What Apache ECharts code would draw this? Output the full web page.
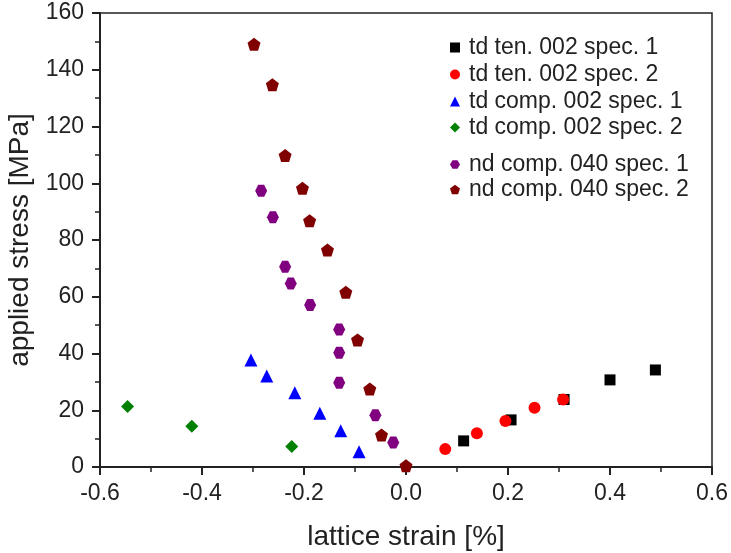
<!DOCTYPE html>
<html>
<head>
<meta charset="utf-8">
<script src="https://cdn.jsdelivr.net/npm/echarts@6/dist/echarts.min.js"></script>
<style>
  html, body { margin: 0; padding: 0; background: #fff; }
  #chart { width: 731px; height: 553px; }
</style>
</head>
<body>
<div id="chart"></div>
<script>
// series names
var names = [
  'td ten. 002 spec. 1',
  'td ten. 002 spec. 2',
  'td comp. 002 spec. 1',
  'td comp. 002 spec. 2',
  'nd comp. 040 spec. 1',
  'nd comp. 040 spec. 2'
]

// [lattice strain %, applied stress MPa]
var tdTen1 = [[0.113, 9.2], [0.206, 16.6], [0.310, 23.8], [0.400, 30.7], [0.489, 34.2]]
var tdTen2 = [[0.077, 6.3], [0.139, 11.9], [0.195, 16.2], [0.252, 20.9], [0.308, 23.8]]
var tdComp1 = [[-0.304, 37.7], [-0.273, 32.1], [-0.218, 26.2], [-0.169, 18.9], [-0.128, 12.8], [-0.092, 5.4]]
var tdComp2 = [[-0.546, 21.3], [-0.420, 14.4], [-0.224, 7.2]]
var ndComp1 = [[-0.284, 97.4], [-0.261, 88.0], [-0.237, 70.6], [-0.226, 64.7], [-0.188, 57.1],
  [-0.131, 48.5], [-0.131, 40.3], [-0.131, 29.7], [-0.060, 18.2], [-0.025, 8.6]]
var ndComp2 = [[-0.298, 149.0], [-0.262, 134.7], [-0.237, 109.8], [-0.203, 98.2], [-0.189, 86.8],
  [-0.154, 76.5], [-0.118, 61.6], [-0.095, 44.8], [-0.071, 27.5], [-0.048, 11.3], [0.0, 0.4]]

var pentagon = 'path://M0,-10L9.51,-3.09L5.88,8.09L-5.88,8.09L-9.51,-3.09Z'
var hexagon = 'path://M-5,-8.66L5,-8.66L10,0L5,8.66L-5,8.66L-10,0Z'

var font = 'Liberation Sans, Arial, sans-serif'

var chart = echarts.init(document.getElementById('chart'))

function legendStyle(top, gap, items) {
  return {
    data: items,
    orient: 'vertical',
    left: 445,
    top: top,
    itemGap: gap,
    itemWidth: 10,
    itemHeight: 10,
    textStyle: { fontFamily: font, fontSize: 23, lineHeight: 23, color: '#222', padding: [0, 0, 0, 4] }
  }
}

chart.setOption({
  animation: false,
  backgroundColor: '#fff',
  grid: {
    left: 100,
    right: 19,
    top: 13,
    bottom: 86,
    outerBoundsMode: 'none',
    show: true,
    borderColor: '#222',
    borderWidth: 1.5
  },
  legend: [
    legendStyle(31, 4, [names[0], names[1]]),
    legendStyle(85, 3, [names[2], names[3]]),
    legendStyle(148, 2, [names[4], names[5]])
  ],
  xAxis: {
    type: 'value',
    min: -0.6,
    max: 0.6,
    interval: 0.2,
    name: 'lattice strain [%]',
    nameLocation: 'middle',
    nameGap: 56,
    nameTextStyle: { fontFamily: font, fontSize: 28, color: '#222' },
    axisLine: { onZero: false, lineStyle: { color: '#222', width: 2 } },
    axisTick: { length: 8, lineStyle: { color: '#222', width: 2 } },
    minorTick: { show: true, splitNumber: 2, length: 5, lineStyle: { color: '#222', width: 1.5 } },
    splitLine: { show: false },
    axisLabel: {
      fontFamily: font,
      fontSize: 23,
      color: '#222',
      margin: 15,
      formatter: function (v) { return v.toFixed(1) }
    }
  },
  yAxis: {
    type: 'value',
    min: 0,
    max: 160,
    interval: 20,
    name: 'applied stress [MPa]',
    nameLocation: 'middle',
    nameGap: 64,
    nameTextStyle: { fontFamily: font, fontSize: 28, color: '#222' },
    axisLine: { show: true, onZero: false, lineStyle: { color: '#222', width: 2 } },
    axisTick: { show: true, length: 8, lineStyle: { color: '#222', width: 2 } },
    minorTick: { show: true, splitNumber: 2, length: 5, lineStyle: { color: '#222', width: 1.5 } },
    splitLine: { show: false },
    axisLabel: { fontFamily: font, fontSize: 23, color: '#222', margin: 16 }
  },
  series: [
    { name: names[0], type: 'scatter', data: tdTen1, symbol: 'rect', symbolSize: 11, itemStyle: { color: '#000000', opacity: 1 } },
    { name: names[1], type: 'scatter', data: tdTen2, symbol: 'circle', symbolSize: 12, itemStyle: { color: '#ff0000', opacity: 1 } },
    { name: names[2], type: 'scatter', data: tdComp1, symbol: 'triangle', symbolSize: 13, itemStyle: { color: '#0000ff', opacity: 1 } },
    { name: names[3], type: 'scatter', data: tdComp2, symbol: 'diamond', symbolSize: 13, itemStyle: { color: '#008000', opacity: 1 } },
    { name: names[4], type: 'scatter', data: ndComp1, symbol: hexagon, symbolSize: 12, itemStyle: { color: '#800080', opacity: 1 } },
    { name: names[5], type: 'scatter', data: ndComp2, symbol: pentagon, symbolSize: 13, itemStyle: { color: '#800000', opacity: 1 } }
  ]
})
</script>
</body>
</html>
